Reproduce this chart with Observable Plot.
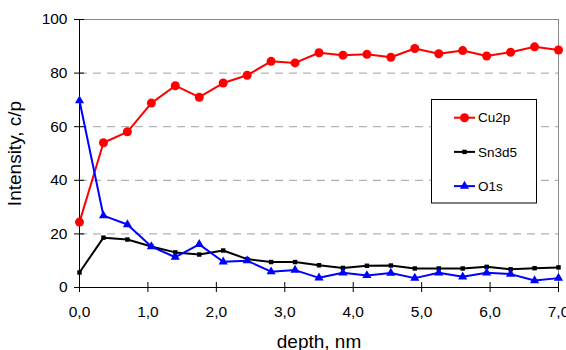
<!DOCTYPE html>
<html><head><meta charset="utf-8">
<script src="https://cdn.jsdelivr.net/npm/d3@7"></script>
<script src="https://cdn.jsdelivr.net/npm/@observablehq/plot@0.6"></script>
<style>body{margin:0;background:#fff;}</style>
</head><body><div id="chart"></div>
<script>
const depth = [0,0.35,0.7,1.05,1.4,1.75,2.1,2.45,2.8,3.15,3.5,3.85,4.2,4.55,4.9,5.25,5.6,5.95,6.3,6.65,7.0];
const cu2p  = [24.4,54.0,58.1,68.8,75.3,71.0,76.3,79.2,84.4,83.8,87.6,86.7,87.0,85.9,89.2,87.2,88.4,86.4,87.8,89.8,88.6];
const sn3d5 = [5.6,18.6,17.9,15.3,13.1,12.3,13.8,10.6,9.5,9.5,8.3,7.3,8.1,8.2,7.1,7.1,7.1,7.7,6.8,7.2,7.5];
const o1s   = [69.7,26.8,23.5,15.3,11.3,16.1,9.6,10.0,5.9,6.5,3.6,5.5,4.5,5.4,3.5,5.5,4.0,5.5,5.0,2.6,3.5];
const seriesNames = ["Cu2p","Sn3d5","O1s"];
const seriesValues = [cu2p, sn3d5, o1s];
const xTicks = [0,1,2,3,4,5,6,7];
const yTicks = [0,20,40,60,80,100];
const gridTicks = [20,40,60,80];
const xLabel = "depth, nm";
const yLabel = "Intensity, c/p";

const colors = ["#ff0000","#000000","#0000ff"];
const symbols = ["circle","square","triangle"];
const radii = [4.5, 2.5, 3.4];

const data = [];
seriesNames.forEach((s, k) => depth.forEach((d, i) => data.push({series: s, depth: d, value: seriesValues[k][i]})));

const fmt = d => d3.format(".1f")(d).replace(".", ",");

const seriesMarks = [];
seriesNames.forEach((s, k) => {
  const rows = data.filter(d => d.series === s);
  seriesMarks.push(Plot.line(rows, {x: "depth", y: "value", stroke: colors[k], strokeWidth: 2}));
  seriesMarks.push(Plot.dot(rows, {x: "depth", y: "value", fill: colors[k], symbol: () => symbols[k], r: radii[k], stroke: "none"}));
});

const chart = Plot.plot({
  width: 566,
  height: 350,
  marginLeft: 79,
  marginRight: 8,
  marginTop: 19,
  marginBottom: 63,
  style: {fontFamily: "'Liberation Sans', Arial, sans-serif", fontSize: "15.5px", background: "#fff", color: "#000"},
  x: {domain: [0, 7]},
  y: {domain: [0, 100]},
  symbol: {type: "identity"},
  marks: [
    Plot.ruleY(gridTicks, {stroke: "#a0a0a0", strokeDasharray: "8,6"}),
    Plot.ruleY([100], {stroke: "#888"}),
    Plot.ruleX([7], {stroke: "#888"}),
    Plot.ruleX([0], {stroke: "#000"}),
    Plot.ruleY([0], {stroke: "#000"}),
    Plot.ruleX(xTicks, {x: d => d, y1: 0, y2: 0, insetTop: -5, insetBottom: -5, stroke: "#000"}),
    Plot.ruleY(yTicks, {y: d => d, x1: 0, x2: 0, insetLeft: -5, insetRight: -5, stroke: "#000"}),
    Plot.axisX(xTicks, {tickSize: 0, tickPadding: 18, tickFormat: fmt, label: null}),
    Plot.axisY(yTicks, {tickSize: 0, tickPadding: 12, label: null}),
    Plot.text([xLabel], {frameAnchor: "bottom", lineAnchor: "middle", textAnchor: "middle", dy: 54, text: d => d, fontSize: 19}),
    Plot.text([yLabel], {frameAnchor: "left", lineAnchor: "middle", textAnchor: "middle", dx: -64.5, rotate: -90, text: d => d, fontSize: 19}),
    ...seriesMarks
  ]
});

const svg = d3.select(chart);
const lg = svg.append("g");
lg.append("rect").attr("x", 431.5).attr("y", 99.5).attr("width", 105).attr("height", 103.5)
  .attr("fill", "#fff").attr("stroke", "#000").attr("stroke-width", 1);
seriesNames.forEach((s, k) => {
  const y = 117.7 + k * 34.2;
  lg.append("line").attr("x1", 454).attr("x2", 475).attr("y1", y).attr("y2", y)
    .attr("stroke", colors[k]).attr("stroke-width", 2);
  lg.append("path").attr("d", d3.symbol(d3["symbol" + symbols[k][0].toUpperCase() + symbols[k].slice(1)], Math.PI * radii[k] * radii[k])())
    .attr("transform", `translate(464.5,${y})`).attr("fill", colors[k]);
  lg.append("text").attr("x", 478).attr("y", y).attr("dy", "0.35em").attr("text-anchor", "start")
    .attr("font-size", "13.5px").attr("fill", "#000").text(s);
});

document.getElementById("chart").appendChild(chart);
</script>
</body></html>
